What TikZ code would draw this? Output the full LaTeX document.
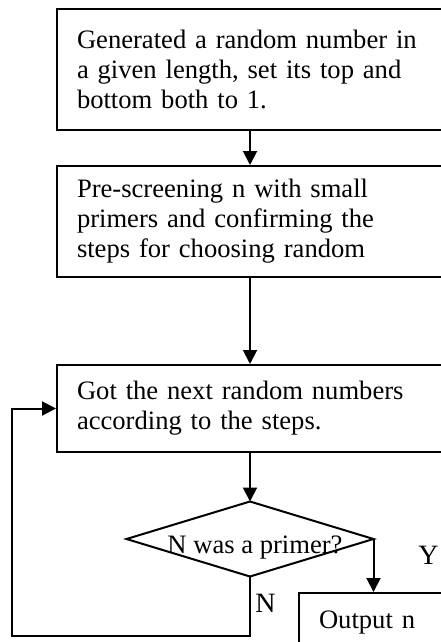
\documentclass[tikz,border=0pt]{standalone}
\usepackage{fontspec}
\setmainfont{Liberation Serif}
\usepackage{tikz}
\usetikzlibrary{shapes.geometric, arrows.meta, positioning}
\tikzstyle{process} = [rectangle, text width=173pt, inner xsep=10pt, inner ysep=4pt, align=left, draw=black, line width=1pt, font=\fontsize{13.3pt}{15pt}\selectfont]
\tikzstyle{decision} = [diamond, minimum width=123.5pt, minimum height=37.5pt, inner sep=0pt, outer sep=0pt, draw=black, line width=1pt]
\tikzstyle{outbox} = [rectangle, text width=53pt, inner xsep=10pt, inner ysep=4pt, align=left, minimum height=30pt, draw=black, line width=1pt, font=\fontsize{13.3pt}{15pt}\selectfont, anchor=north]
\tikzstyle{tag} = [inner sep=0pt, anchor=west, font=\fontsize{14pt}{15pt}\selectfont]
\tikzstyle{arrow} = [line width=1pt, -{Triangle[length=7pt, width=7pt]}]

\begin{document}
\begin{tikzpicture}
\useasboundingbox (0,0) rectangle (220pt,-321pt);
% Nodes
\node (gen) [process, minimum height=60.5pt, anchor=north] at (125pt,-4pt) {Generated a random number in\\a given length, set its top and\\bottom both to 1.};
\node (pre) [process, minimum height=55.5pt, below=17pt of gen] {Pre-screening n with small\\primers and confirming the\\steps for choosing random};
\node (next) [process, minimum height=43.5pt, anchor=north] at (125pt,-182pt) {Got the next random numbers\\according to the steps.};
\node (dec) [decision, label={[xshift=2.5pt, yshift=-4.5pt, font=\fontsize{13.3pt}{15pt}\selectfont]center:N was a primer?}] at (125pt,-269.5pt) {};
\node (out) [outbox] at (186pt,-296pt) {Output n};
\node (ylab) [tag] at (209pt,-277.5pt) {Y};
\node (nlab) [tag] at (127.5pt,-301.5pt) {N};
\coordinate (corner) at (6pt,-318pt);

% Arrows
\draw [arrow] (gen) -- (pre);
\draw [arrow] (pre) -- (next);
\draw [arrow] (next) -- (dec);
\draw [arrow] (dec.east) -- (dec.east |- out.north);
\draw [arrow] (dec.south) -- (dec.south |- corner) -- (corner) |- (next.west);
\end{tikzpicture}
\end{document}
